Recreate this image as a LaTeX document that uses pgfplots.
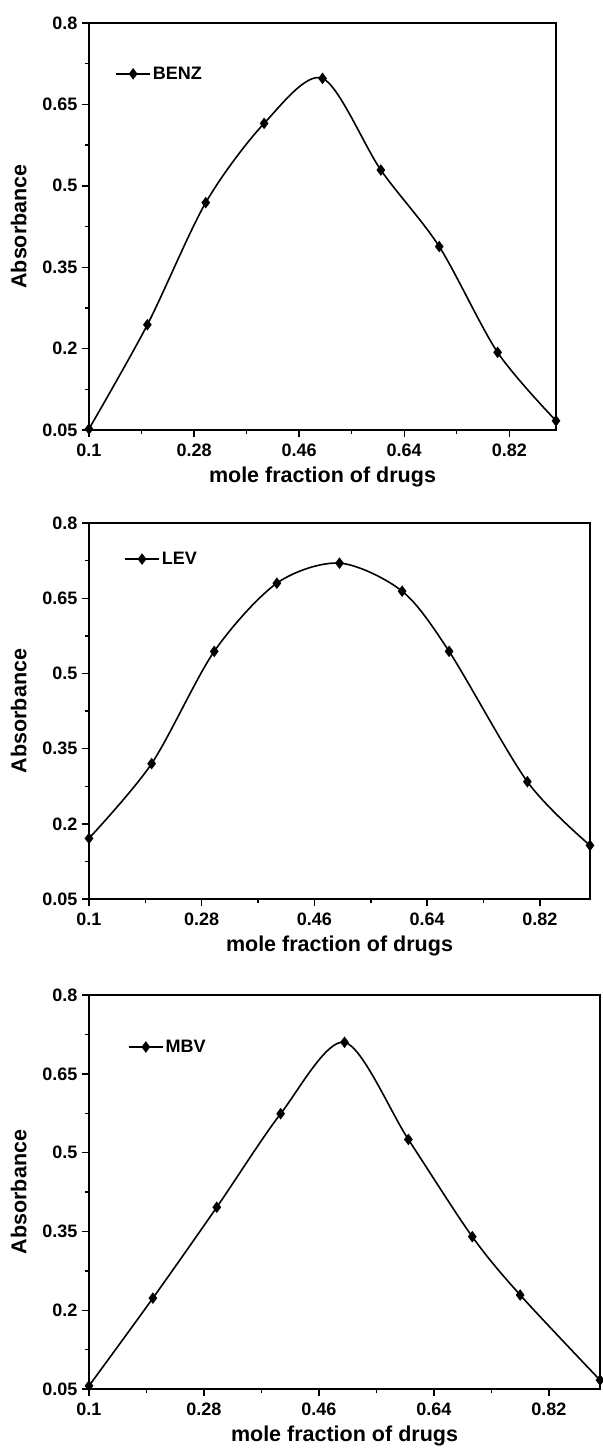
\documentclass[border=0pt]{standalone}
\usepackage{fontspec}
\setmainfont{Liberation Sans}
\usepackage{pgfplots}
\pgfplotsset{compat=1.18}
\pgfplotsset{myax/.style={
  scale only axis, anchor=south west,
  xmin=0.1, xmax=0.9, ymin=0.05, ymax=0.8,
  xtick={0.1,0.28,0.46,0.64,0.82}, xticklabels={0.1,0.28,0.46,0.64,0.82},
  ytick={0.05,0.2,0.35,0.5,0.65,0.8}, yticklabels={0.05,0.2,0.35,0.5,0.65,0.8},
  minor x tick num=1, minor y tick num=1,
  tick align=outside, xtick pos=bottom, ytick pos=left,
  major tick length=7pt, minor tick length=4pt,
  every tick/.style={black, line width=1.4pt},
  axis line style={line width=1.8pt},
  tick label style={font=\fontsize{18}{18}\selectfont\bfseries},
  xticklabel style={yshift=-3pt},
  yticklabel style={xshift=-1pt},
  label style={font=\fontsize{21.5}{21.5}\selectfont\bfseries},
  xlabel shift=4pt, ylabel shift=9pt,
  xlabel={mole fraction of drugs}, ylabel={Absorbance},
  legend style={draw=none, fill=none, font=\fontsize{18}{18}\selectfont\bfseries, anchor=west, inner sep=0pt},
  legend image code/.code={\draw[##1, mark repeat=2, mark phase=2] plot coordinates {(0pt,0pt) (17pt,0pt) (34pt,0pt)};},
},
 myplot/.style={black, line width=1.6pt, mark=diamond*, mark size=4.5pt, smooth, mark options={solid}}
}
\begin{document}
\begin{tikzpicture}
\useasboundingbox (0,0) rectangle (602pt,-1450pt);
\begin{axis}[myax, at={(89pt,-430pt)}, width=467pt, height=407pt,
  legend style={at={(0.056,0.875)}}]
\addplot[myplot] coordinates {(0.1,0.052)(0.2,0.244)(0.3,0.469)(0.4,0.615)(0.5,0.698)(0.6,0.529)(0.7,0.388)(0.8,0.193)(0.9,0.067)};
\addlegendentry{BENZ}
\end{axis}
\begin{axis}[myax, at={(89pt,-899pt)}, width=501pt, height=376pt,
  legend style={at={(0.07,0.904)}}]
\addplot[myplot] coordinates {(0.1,0.171)(0.2,0.320)(0.3,0.544)(0.4,0.680)(0.5,0.720)(0.6,0.664)(0.675,0.544)(0.8,0.284)(0.9,0.157)};
\addlegendentry{LEV}
\end{axis}
\begin{axis}[myax, at={(89pt,-1389pt)}, width=511pt, height=394pt,
  legend style={at={(0.076,0.868)}}]
\addplot[myplot] coordinates {(0.1,0.056)(0.2,0.223)(0.3,0.396)(0.4,0.574)(0.5,0.710)(0.6,0.525)(0.7,0.340)(0.775,0.229)(0.9,0.067)};
\addlegendentry{MBV}
\end{axis}
\end{tikzpicture}
\end{document}
